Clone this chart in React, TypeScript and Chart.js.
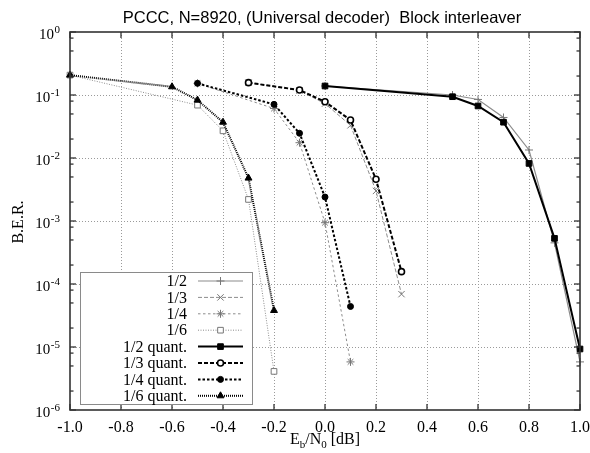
import React, { useEffect, useRef } from 'react';
import { Chart, registerables } from 'chart.js';
import { drawPoint } from 'chart.js/helpers';

Chart.register(...registerables);

// ---------- data ----------
const TITLE = 'PCCC, N=8920, (Universal decoder)  Block interleaver';
const X_TICKS = [-1.0, -0.8, -0.6, -0.4, -0.2, 0.0, 0.2, 0.4, 0.6, 0.8, 1.0];
const Y_EXPONENTS = [0, -1, -2, -3, -4, -5, -6];
const Y_MINOR_MULTS = [2, 5, 8];

const LABELS = ['1/2', '1/3', '1/4', '1/6', '1/2 quant.', '1/3 quant.', '1/4 quant.', '1/6 quant.'];

const EBN0_HALF = [0.0, 0.5, 0.6, 0.7, 0.8, 0.9, 1.0];
const BER_HALF = [0.139, 0.1, 0.085, 0.044, 0.0134, 4.5e-4, 5.8e-6];
const BER_HALF_Q = [0.139, 0.094, 0.067, 0.037, 0.0082, 5.3e-4, 9.3e-6];

const EBN0_THIRD = [-0.3, -0.1, 0.0, 0.1, 0.2, 0.3];
const BER_THIRD = [0.157, 0.118, 0.073, 0.033, 0.003, 6.9e-5];
const BER_THIRD_Q = [0.157, 0.12, 0.078, 0.04, 0.0046, 1.57e-4];

const EBN0_QUARTER = [-0.5, -0.2, -0.1, 0.0, 0.1];
const BER_QUARTER = [0.153, 0.061, 0.0175, 9.4e-4, 5.8e-6];
const BER_QUARTER_Q = [0.153, 0.071, 0.0247, 0.0024, 4.4e-5];

const EBN0_SIXTH = [-1.0, -0.5, -0.4, -0.3, -0.2];
const BER_SIXTH = [0.207, 0.069, 0.027, 0.0022, 4.1e-6];
const EBN0_SIXTH_Q = [-1.0, -0.6, -0.5, -0.4, -0.3, -0.2];
const BER_SIXTH_Q = [0.207, 0.135, 0.083, 0.037, 0.0048, 3.8e-5];

// ---------- styles ----------
const SERIF = '"Liberation Serif", "Times New Roman", serif';
const SANS = '"Liberation Sans", Arial, sans-serif';

type Style = {
  color: string; width: number; dash: number[]; point: string; radius: number;
  pBorder: string; pBg: string; pWidth: number; order: number;
};

const STYLES: Style[] = [
  { color: '#8c8c8c', width: 1.2, dash: [], point: 'cross', radius: 4, pBorder: '#777', pBg: '#777', pWidth: 1, order: 2 },
  { color: '#8c8c8c', width: 1, dash: [4, 2], point: 'crossRot', radius: 4.5, pBorder: '#777', pBg: '#777', pWidth: 1, order: 2 },
  { color: '#8c8c8c', width: 1, dash: [2.5, 2.5], point: 'star', radius: 4, pBorder: '#777', pBg: '#777', pWidth: 1, order: 2 },
  { color: '#8c8c8c', width: 1, dash: [1, 1.5], point: 'rect', radius: 4, pBorder: '#777', pBg: '#fff', pWidth: 1, order: 2 },
  { color: '#000', width: 2, dash: [], point: 'rect', radius: 4, pBorder: '#000', pBg: '#000', pWidth: 1, order: 1 },
  { color: '#000', width: 2, dash: [4, 2], point: 'circle', radius: 3, pBorder: '#000', pBg: '#fff', pWidth: 1.6, order: 1 },
  { color: '#000', width: 2, dash: [2.5, 2], point: 'circle', radius: 3, pBorder: '#000', pBg: '#000', pWidth: 1, order: 1 },
  { color: '#000', width: 2, dash: [1, 1], point: 'triangle', radius: 4, pBorder: '#000', pBg: '#000', pWidth: 1, order: 1 },
];

const SERIES_X = [EBN0_HALF, EBN0_THIRD, EBN0_QUARTER, EBN0_SIXTH, EBN0_HALF, EBN0_THIRD, EBN0_QUARTER, EBN0_SIXTH_Q];
const SERIES_Y = [BER_HALF, BER_THIRD, BER_QUARTER, BER_SIXTH, BER_HALF_Q, BER_THIRD_Q, BER_QUARTER_Q, BER_SIXTH_Q];

function line(ctx: CanvasRenderingContext2D, x1: number, y1: number, x2: number, y2: number) {
  ctx.beginPath();
  ctx.moveTo(x1, y1);
  ctx.lineTo(x2, y2);
  ctx.stroke();
}

const decor = {
  id: 'decor',
  beforeDatasetsDraw(chart: any) {
    const { ctx, chartArea: a, scales } = chart;
    const xs = scales.x, ys = scales.y;
    ctx.save();
    ctx.strokeStyle = '#9a9a9a';
    ctx.lineWidth = 1;
    ctx.setLineDash([1, 2]);
    for (const v of X_TICKS) {
      if (v <= -1 || v >= 1) continue;
      const px = Math.round(xs.getPixelForValue(v)) + 0.5;
      line(ctx, px, a.top, px, a.bottom);
    }
    for (const e of Y_EXPONENTS) {
      if (e >= 0 || e <= -6) continue;
      const py = Math.round(ys.getPixelForValue(Math.pow(10, e))) + 0.5;
      line(ctx, a.left, py, a.right, py);
    }
    ctx.restore();
  },
  afterDatasetsDraw(chart: any) {
    const { ctx, chartArea: a, scales } = chart;
    const xs = scales.x, ys = scales.y;
    ctx.save();
    ctx.setLineDash([]);
    ctx.strokeStyle = '#333';
    ctx.lineWidth = 1.6;
    ctx.strokeRect(a.left, a.top, a.right - a.left, a.bottom - a.top);

    // ticks
    ctx.lineWidth = 1.3;
    for (const v of X_TICKS) {
      const px = xs.getPixelForValue(v);
      line(ctx, px, a.bottom, px, a.bottom - 6);
      line(ctx, px, a.top, px, a.top + 6);
    }
    for (const e of Y_EXPONENTS) {
      const py = ys.getPixelForValue(Math.pow(10, e));
      line(ctx, a.left, py, a.left + 6, py);
      line(ctx, a.right, py, a.right - 6, py);
      if (e > -6) {
        for (const m of Y_MINOR_MULTS) {
          const pm = ys.getPixelForValue(m * Math.pow(10, e - 1));
          line(ctx, a.left, pm, a.left + 3.5, pm);
          line(ctx, a.right, pm, a.right - 3.5, pm);
        }
      }
    }

    // x tick labels
    ctx.fillStyle = '#000';
    ctx.font = `16px ${SERIF}`;
    ctx.textAlign = 'center';
    ctx.textBaseline = 'alphabetic';
    for (const v of X_TICKS) {
      ctx.fillText(v.toFixed(1), xs.getPixelForValue(v), a.bottom + 22);
    }

    // y tick labels with superscripts
    for (const e of Y_EXPONENTS) {
      const py = ys.getPixelForValue(Math.pow(10, e));
      const exp = String(e);
      ctx.font = `11px ${SERIF}`;
      ctx.textAlign = 'right';
      const ew = ctx.measureText(exp).width;
      ctx.fillText(exp, a.left - 10, py + 0.5);
      ctx.font = `15px ${SERIF}`;
      ctx.fillText('10', a.left - 10 - ew - 0.5, py + 6.5);
    }

    // x axis title with subscripts
    const cx = (a.left + a.right) / 2;
    const base = a.bottom + 34;
    const parts: [string, boolean][] = [['E', false], ['b', true], ['/N', false], ['0', true], [' [dB]', false]];
    let total = 0;
    const widths: number[] = [];
    for (const [t, sub] of parts) {
      ctx.font = sub ? `11px ${SERIF}` : `16px ${SERIF}`;
      const w = ctx.measureText(t).width;
      widths.push(w);
      total += w;
    }
    let xx = cx - total / 2;
    ctx.textAlign = 'left';
    parts.forEach(([t, sub], i) => {
      ctx.font = sub ? `11px ${SERIF}` : `16px ${SERIF}`;
      ctx.fillText(t, xx, sub ? base + 4 : base);
      xx += widths[i];
    });

    // y axis title
    ctx.save();
    ctx.translate(22.5, (a.top + a.bottom) / 2 + 1);
    ctx.rotate(-Math.PI / 2);
    ctx.font = `16px ${SERIF}`;
    ctx.textAlign = 'center';
    ctx.fillText('B.E.R.', 0, 0);
    ctx.restore();

    // chart title
    ctx.font = `16.5px ${SANS}`;
    ctx.textAlign = 'center';
    ctx.fillText(TITLE, cx - 3, 23);

    // legend
    const lx = 80.5, ly = 272.5, lw = 172, lh = 132;
    ctx.fillStyle = '#fff';
    ctx.fillRect(lx, ly, lw, lh);
    ctx.strokeStyle = '#8a8a8a';
    ctx.lineWidth = 1;
    ctx.strokeRect(lx, ly, lw, lh);
    chart.data.datasets.forEach((ds: any, i: number) => {
      const yy = 281 + 16.4 * i;
      ctx.fillStyle = '#000';
      ctx.font = `16px ${SERIF}`;
      ctx.textAlign = 'right';
      ctx.textBaseline = 'middle';
      ctx.fillText(ds.label, 187, yy + 1);
      ctx.strokeStyle = ds.borderColor;
      ctx.lineWidth = ds.borderWidth;
      ctx.setLineDash(ds.borderDash || []);
      line(ctx, 198, yy, 243, yy);
      ctx.setLineDash([]);
      ctx.strokeStyle = ds.pointBorderColor;
      ctx.fillStyle = ds.pointBackgroundColor;
      ctx.lineWidth = ds.pointBorderWidth;
      drawPoint(ctx, { pointStyle: ds.pointStyle, radius: ds.pointRadius, rotation: 0, borderWidth: ds.pointBorderWidth } as any, 220.5, yy);
    });
    ctx.restore();
  },
};

export default function App() {
  const ref = useRef<HTMLCanvasElement | null>(null);
  useEffect(() => {
    if (!ref.current) return;
    const datasets = LABELS.map((label, i) => {
      const s = STYLES[i];
      return {
        label,
        data: SERIES_X[i].map((x, j) => ({ x, y: SERIES_Y[i][j] })),
        borderColor: s.color,
        borderWidth: s.width,
        borderDash: s.dash,
        pointStyle: s.point,
        pointRadius: s.radius,
        pointHoverRadius: s.radius,
        pointBorderColor: s.pBorder,
        pointBackgroundColor: s.pBg,
        pointBorderWidth: s.pWidth,
        showLine: true,
        fill: false,
        tension: 0,
        clip: false,
        order: s.order,
      };
    });
    const chart = new Chart(ref.current, {
      type: 'line',
      data: { datasets } as any,
      options: {
        animation: false,
        responsive: false,
        devicePixelRatio: 1,
        layout: { padding: { left: 70, top: 32, right: 10, bottom: 43 } },
        scales: {
          x: { type: 'linear', min: -1, max: 1, display: false },
          y: { type: 'logarithmic', min: 1e-6, max: 1, display: false },
        },
        plugins: { legend: { display: false }, tooltip: { enabled: false }, title: { display: false } },
        events: [],
      } as any,
      plugins: [decor],
    });
    return () => chart.destroy();
  }, []);
  return (
    <div style={{ position: 'fixed', left: 0, top: 0, width: 590, height: 453, background: '#fff' }}>
      <canvas ref={ref} width={590} height={453} />
    </div>
  );
}
